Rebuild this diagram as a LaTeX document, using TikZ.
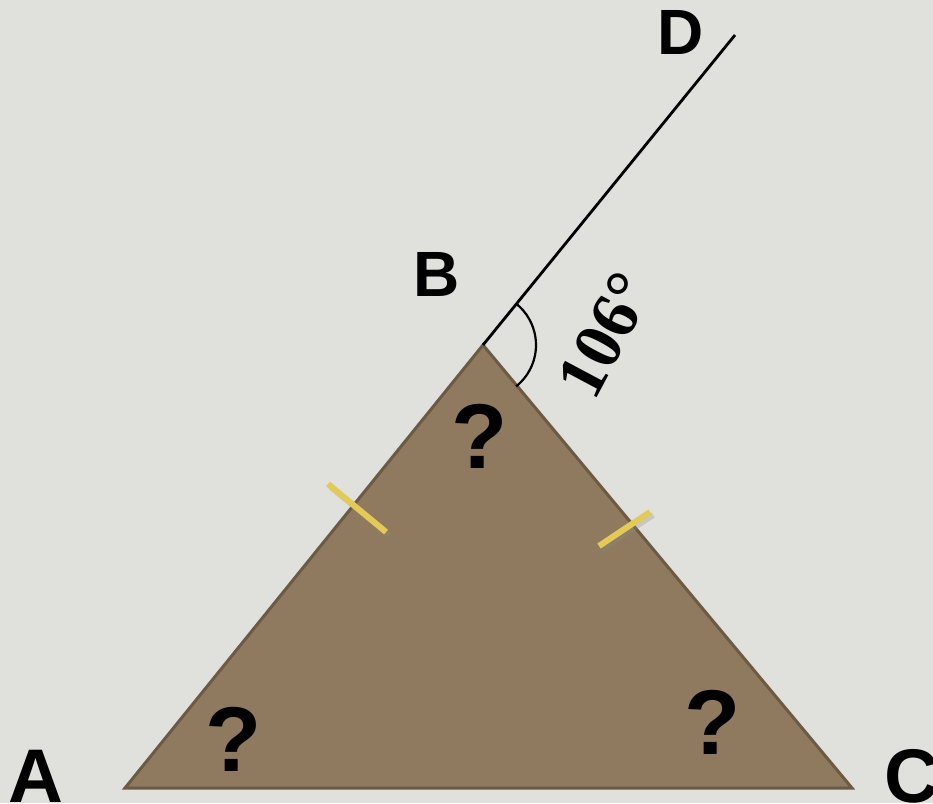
\documentclass[tikz,border=0pt]{standalone}
\usepackage{fontspec}
\setmainfont{Liberation Sans}
\newfontfamily\serifb{Liberation Serif}
\definecolor{bg}{HTML}{E0E1DC}
\definecolor{tri}{HTML}{8F7A5F}
\definecolor{triedge}{HTML}{6B5A44}
\definecolor{tick}{HTML}{E3C955}
\begin{document}
\begin{tikzpicture}[x=1pt,y=-1pt,
  lbl/.style={font=\fontsize{64}{64}\selectfont\bfseries, anchor=base, inner sep=0pt},
  qm/.style={font=\fontsize{92}{92}\selectfont\bfseries, anchor=base, inner sep=0pt},
  tickmark/.style={draw=tick, line width=6pt},
  tickshadow/.style={draw=black!45, line width=6pt, opacity=0.3}]
\fill[bg] (0,0) rectangle (933,803);
\useasboundingbox (0,0) rectangle (933,803);
\coordinate (A) at (125,788);
\coordinate (B) at (483,345);
\coordinate (C) at (852,788);
\coordinate (Dp) at (735,35);
\fill[tri, draw=triedge, line width=3pt, line join=miter] (A) -- (B) -- (C) -- cycle;
\draw[line width=2.8pt] (B) -- (Dp);
\draw[line width=2.2pt] (B) ++(51.2:53) arc[start angle=51.2, end angle=-50.2, radius=53];
% tick marks
\coordinate (t1a) at (328,484); \coordinate (t1b) at (386,532);
\coordinate (t2a) at (599,546); \coordinate (t2b) at (650,512);
\draw[tickshadow] ([shift={(3,3)}]t1a) -- ([shift={(3,3)}]t1b);
\draw[tickshadow] ([shift={(3,3)}]t2a) -- ([shift={(3,3)}]t2b);
\draw[tickmark] (t1a) -- (t1b);
\draw[tickmark] (t2a) -- (t2b);
% labels
\node[lbl, font=\fontsize{76}{76}\selectfont\bfseries] (la) at (36,802) {A};
\node[lbl] (lb) at (437,296) {B};
\node[lbl, font=\fontsize{76}{76}\selectfont\bfseries] (lc) at (912,802) {C};
\node[lbl] (ld) at (681,54) {D};
\node[qm] (q1) at (480,468) {?};
\node[qm] (q2) at (234,771) {?};
\node[qm] (q3) at (713,754) {?};
\node[font=\serifb\fontsize{68}{68}\selectfont\bfseries, rotate=62, inner sep=0pt] (ang) at (605,335) {106°};
\end{tikzpicture}
\end{document}
